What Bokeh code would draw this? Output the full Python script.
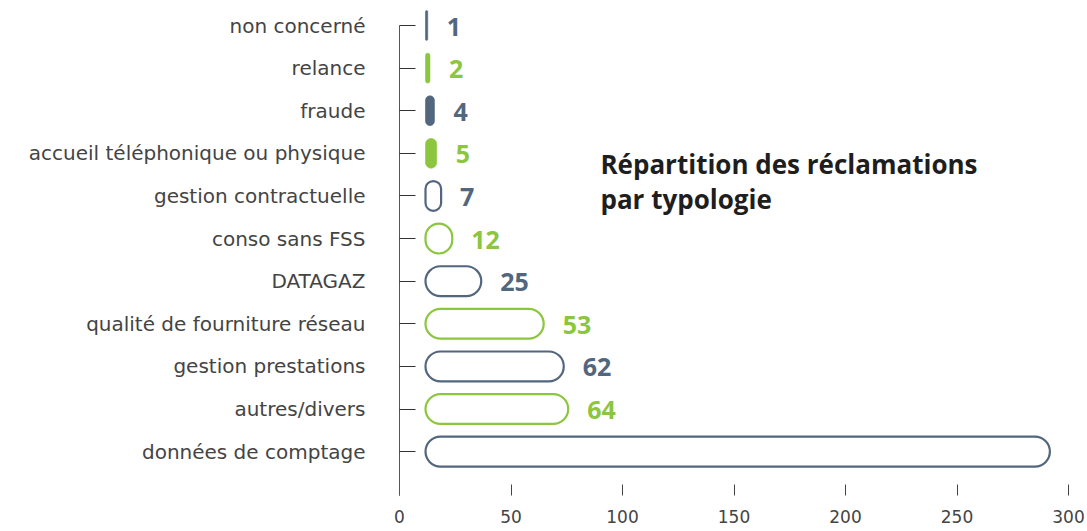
from bokeh.plotting import figure
from bokeh.models import Range1d, FixedTicker, Label, ColumnDataSource
from bokeh.core.properties import value
from bokeh.embed import file_html
from bokeh.resources import INLINE

categories = ["non concerné", "relance", "fraude", "accueil téléphonique ou physique",
              "gestion contractuelle", "conso sans FSS", "DATAGAZ",
              "qualité de fourniture réseau", "gestion prestations", "autres/divers",
              "données de comptage"]
values = [1, 2, 4, 5, 7, 12, 25, 53, 62, 64, 280]
value_labels = ["1", "2", "4", "5", "7", "12", "25", "53", "62", "64", ""]
x_ticks = [0, 50, 100, 150, 200, 250, 300]
title_lines = ["Répartition des réclamations", "par typologie"]

SLATE = "#52667e"
GREEN = "#8cc63f"
BAR_START = 11.66
FONT = "DejaVu Sans"
BOLD_FONT = "Open Sans"

n = len(categories)
ys = [n - 1 - i for i in range(n)]
colors = [SLATE if i % 2 == 0 else GREEN for i in range(n)]
fills = [c if v <= 5 else "white" for c, v in zip(colors, values)]
widths = [0.6 if v <= 5 else 2.2 for v in values]
rights = [BAR_START + v for v in values]

src = ColumnDataSource(dict(y=ys, left=[BAR_START] * n, right=rights, color=colors,
                            fill=fills, lw=widths, label=value_labels))

p = figure(width=1087, height=531, output_backend="svg", toolbar_location=None,
           x_range=Range1d(0, 300), y_range=Range1d(-1.03, n - 1 + 0.587),
           min_border_left=399, min_border_right=19, min_border_top=0,
           min_border_bottom=36)
p.outline_line_color = None
p.xgrid.visible = False
p.ygrid.visible = False
p.background_fill_color = "white"

p.hbar(y="y", left="left", right="right", height=0.7, source=src,
       fill_color="fill", line_color="color", line_width="lw", border_radius=15)

p.text(x="right", y="y", text="label", source=src, x_offset=19, y_offset=1,
       text_color="color", text_font=value(BOLD_FONT), text_font_size="25px",
       text_font_style="bold", text_baseline="middle", text_align="left")

# y axis
ya = p.yaxis[0]
ya.ticker = FixedTicker(ticks=ys)
ya.bounds = (-1.03, n - 1)
ya.major_label_overrides = {y: c for y, c in zip(ys, categories)}
ya.major_tick_in = 16
ya.major_tick_out = 0
ya.minor_tick_line_color = None
ya.axis_line_color = "#555555"
ya.major_tick_line_color = "#333333"
ya.major_label_standoff = 34
ya.major_label_text_font = FONT
ya.major_label_text_font_size = "20px"
ya.major_label_text_color = "#444444"

# x axis
xa = p.xaxis[0]
xa.ticker = FixedTicker(ticks=x_ticks)
xa.axis_line_color = None
xa.major_tick_in = 11
xa.major_tick_out = 0
xa.minor_tick_line_color = None
xa.major_tick_line_color = "#444444"
xa.major_label_standoff = 14
xa.major_label_text_font = FONT
xa.major_label_text_font_size = "17px"
xa.major_label_text_color = "#444444"

for line, yy in zip(title_lines, [6.76, 5.92]):
    p.add_layout(Label(x=90.1, y=yy, text=line, text_font=BOLD_FONT, text_font_size="26px",
                       text_font_style="bold", text_color="#1e1e1e",
                       text_baseline="middle", text_align="left"))

open("out.html", "w").write(file_html(p, INLINE))
